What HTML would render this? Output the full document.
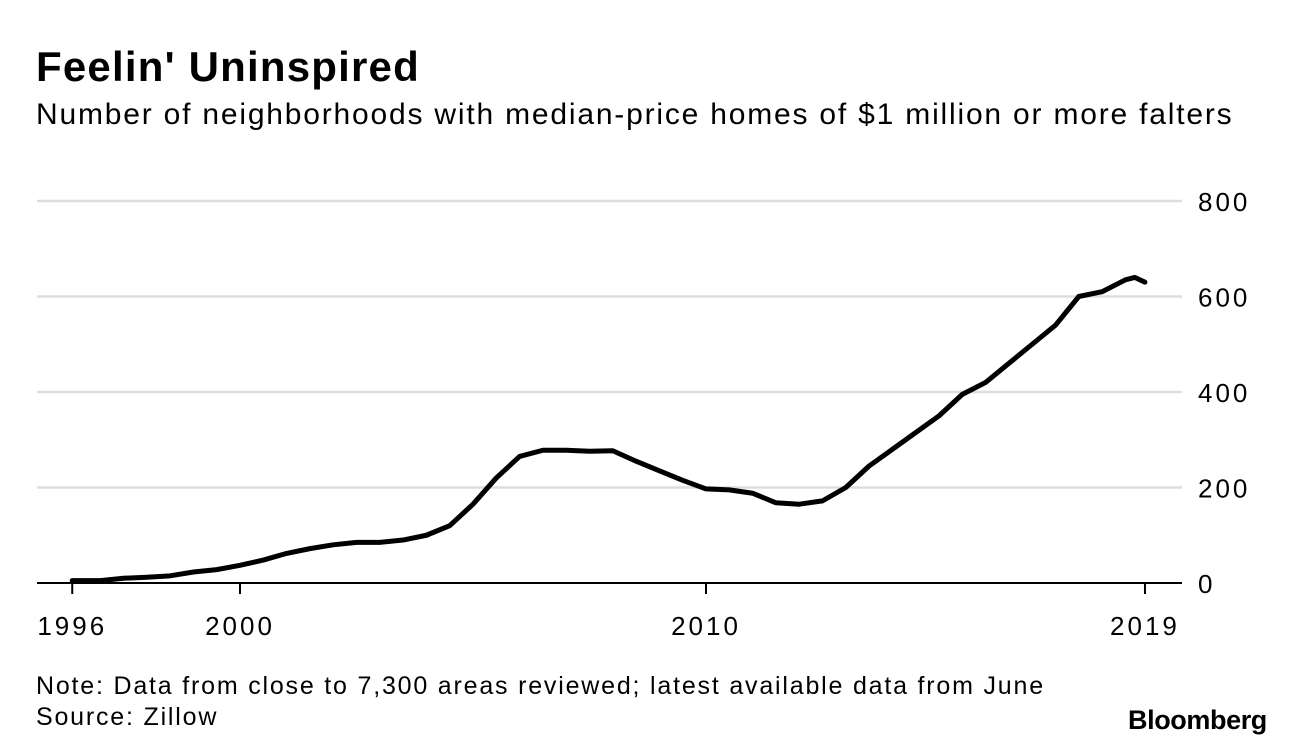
<!DOCTYPE html>
<html><head><meta charset="utf-8"><style>
body{margin:0;width:1296px;height:750px;background:#fff;font-family:"Liberation Sans",sans-serif;overflow:hidden;position:relative}
.t{position:absolute;color:#000;white-space:nowrap}
</style></head><body>
<div class="t" style="left:36px;top:43px;font-size:42px;font-weight:bold;letter-spacing:1.2px">Feelin' Uninspired</div>
<div class="t" style="left:36px;top:98px;font-size:30px;letter-spacing:1.8px">Number of neighborhoods with median-price homes of $1 million or more falters</div>
<svg id="c" width="1296" height="750" style="position:absolute;left:0;top:0"></svg>
<div class="t" style="left:36px;top:672px;font-size:25px;letter-spacing:1.8px">Note: Data from close to 7,300 areas reviewed; latest available data from June</div>
<div class="t" style="left:36px;top:703px;font-size:25px;letter-spacing:1.8px">Source: Zillow</div>
<div class="t" style="left:1128px;top:705px;font-size:27px;font-weight:bold;letter-spacing:-0.4px">Bloomberg</div>
<script>
const years=[1996.4,1997,1997.5,1998,1998.5,1999,1999.5,2000,2000.5,2001,2001.5,2002,2002.5,2003,2003.5,2004,2004.5,2005,2005.5,2006,2006.5,2007,2007.5,2008,2008.5,2009,2009.5,2010,2010.5,2011,2011.5,2012,2012.5,2013,2013.5,2014,2014.5,2015,2015.5,2016,2016.5,2017,2017.5,2018,2018.5,2019,2019.2,2019.42];
const values=[5,5,10,12,15,23,28,37,48,62,72,80,85,85,90,100,120,165,220,265,278,278,276,277,255,235,215,197,195,188,168,165,172,200,245,280,315,350,395,420,460,500,540,600,610,635,640,630];
const yTicks=[0,200,400,600,800];
const xTicks=[1996.4,2000,2010,2019.42];
const xTickLabels=["1996","2000","2010","2019"];
const svg=document.getElementById('c');
const NS="http://www.w3.org/2000/svg";
const X=y=>240+(y-2000)*46.6;
const Y=v=>583-v*0.4775;
function mk(t,a){const e=document.createElementNS(NS,t);for(const k in a)e.setAttribute(k,a[k]);svg.appendChild(e);return e;}
yTicks.forEach(v=>{
 const l=mk('line',{x1:37,x2:1182,y1:Y(v),y2:Y(v),stroke:v===0?'#000':'#ddd','stroke-width':v===0?2:2.5});
 
 
 const t=mk('text',{x:1198,y:Y(v)+10,'font-size':26,'letter-spacing':3,'font-family':'Liberation Sans'});
 t.textContent=v;
 
 
});
xTicks.forEach((yr,i)=>{
 const l=mk('line',{x1:X(yr),x2:X(yr),y1:583,y2:594,stroke:'#000','stroke-width':2});
 
 
 const t=mk('text',{x:X(yr),y:635,'font-size':26,'letter-spacing':3,'font-family':'Liberation Sans','text-anchor':'middle'});
 t.textContent=xTickLabels[i];
 
 
});
const p=mk('polyline',{points:years.map((y,i)=>X(y)+','+Y(values[i])).join(' '),fill:'none',stroke:'#000','stroke-width':5,'stroke-linejoin':'round','stroke-linecap':'round'});


</script>
</body></html>
